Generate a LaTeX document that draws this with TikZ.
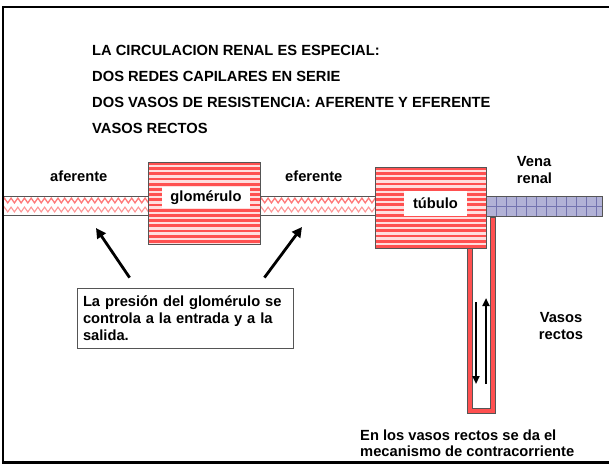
\documentclass[tikz,border=0pt]{standalone}
\usepackage{fontspec}
\setmainfont{Liberation Sans}
\usetikzlibrary{arrows.meta,decorations.pathmorphing,calc}
\definecolor{stripered}{RGB}{255,80,80}
\definecolor{stripelight}{RGB}{255,222,222}
\definecolor{wavepink}{RGB}{255,120,120}
\definecolor{wavelight}{RGB}{255,150,150}
\definecolor{venafill}{RGB}{178,178,214}
\definecolor{venagrid}{RGB}{115,115,175}
\definecolor{edgegray}{RGB}{85,85,85}

\begin{document}
\begin{tikzpicture}[x=1pt,y=-1pt,
    every node/.style={font=\fontsize{14.7}{16.7}\selectfont\bfseries},
    outline/.style={draw=edgegray,line width=0.8pt},
    tag/.style={fill=white,inner ysep=0pt,minimum height=#1},
    bigarrow/.style={line width=2.8pt,-{Triangle[length=10pt,width=10pt]}},
    flowarrow/.style={line width=2pt,-{Triangle[length=8pt,width=7pt]}},
    zig/.style={decorate,decoration={zigzag,segment length=6.7pt,amplitude=2.4pt}}]

      \useasboundingbox (0,0) rectangle (609,464);

      \foreach \a/\b in {3/148,260/375} {
        \fill[white] (\a,196) rectangle (\b,215);
        \begin{scope}
          \clip (\a,196) rectangle (\b,215);
          \draw[zig,wavepink,line width=1.3pt] (\a-7,200.5) -- (\b+7,200.5);
          \draw[zig,wavelight,line width=1.1pt] (\a-7,209.5) -- (\b+7,209.5);
        \end{scope}
        \draw[outline] (\a,196) rectangle (\b,215);
      }

      \fill[venafill] (486,196) rectangle (602,216);
      \foreach \i in {0,1,...,11} {
        \draw[venagrid,line width=0.5pt] (486+\i*10,196) -- (486+\i*10,216);
      }
      \draw[venagrid,line width=0.5pt] (486,206) -- (602,206);
      \draw[outline] (486,196) rectangle (602,216);

      \draw[outline,fill=stripered] (467,244) -- (467,413) -- (495,413) -- (495,217) -- (490,217)
        -- (490,408) -- (472,408) -- (472,244) -- cycle;

      \foreach \a/\b/\c/\d in {148/260/162/244,375/486/167/248} {
        \fill[stripelight] (\a,\c) rectangle (\b,\d);
        \begin{scope}
          \clip (\a,\c) rectangle (\b,\d);
          \foreach \k in {0,1,...,15} {
            \draw[stripered,line width=2.7pt] (\a,\c+1.35+\k*5.2) -- (\b,\c+1.35+\k*5.2);
          }
        \end{scope}
        \draw[outline] (\a,\c) rectangle (\b,\d);
      }
      \node[tag=21pt,inner xsep=8pt] (glom) at (206,197.5) {glomérulo};
      \node[tag=25pt,inner xsep=9pt] (tub) at (435.5,203.5) {túbulo};

      \foreach \t [count=\n] in {LA CIRCULACION RENAL ES ESPECIAL:,DOS REDES CAPILARES EN SERIE,
          DOS VASOS DE RESISTENCIA: AFERENTE Y EFERENTE,VASOS RECTOS} {
        \node[anchor=base west,inner sep=0pt] (title\n) at (92,29+26*\n) {\t};
      }
      \node[anchor=base west,inner sep=0pt] (af) at (50,181) {aferente};
      \node[anchor=base west,inner sep=0pt] (ef) at (285,181) {eferente};
      \node[align=left,inner sep=0pt] (vena) at (534.5,170) {Vena\\renal};
      \node[align=center,inner sep=0pt] (vr) at (561,326) {Vasos\\rectos};
      \node[align=left,anchor=north west,inner sep=0pt] (contra) at (360,429.3)
        {En los vasos rectos se da el\\mecanismo de contracorriente};

      \node[draw=edgegray,line width=0.8pt,minimum width=216pt,minimum height=60pt,
        text width=204pt,align=left,inner sep=6pt] (note) at (185,318)
        {La presión del glomérulo se\\controla a la entrada y a la\\salida.};

      \coordinate (aftip) at (96,228);
      \coordinate (eftip) at (302,227);
      \draw[bigarrow] ($(note.north west)+(53,-10)$) -- (aftip);
      \draw[bigarrow] ($(note.north east)+(-29,-10)$) -- (eftip);

      \coordinate (downtop) at (476,302);
      \coordinate (downtip) at (476,384);
      \coordinate (upbase) at (486,384);
      \coordinate (uptip) at (486,298);
      \draw[flowarrow] (downtop) -- (downtip);
      \draw[flowarrow] (upbase) -- (uptip);

      \draw[line width=2.6pt] (609,6.8) -- (3,6.8) -- (3,462.2) -- (609,462.2);

    \end{tikzpicture}
\end{document}
